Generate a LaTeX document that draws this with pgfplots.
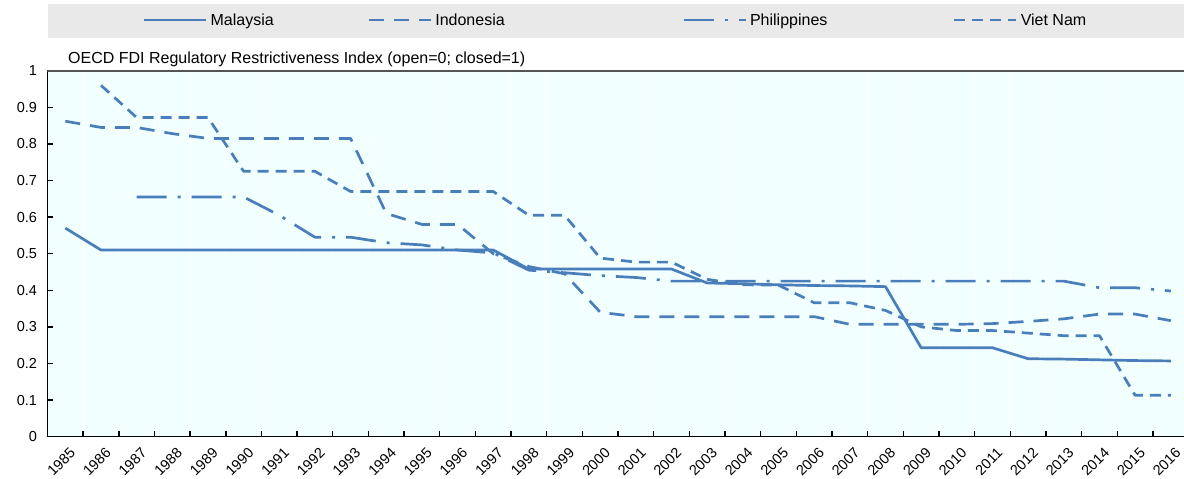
\documentclass[border=0pt]{standalone}
\usepackage{pgfplots}
\pgfplotsset{compat=1.18}
\usepackage{pgfplotstable}
\usepackage{fontspec}
\setmainfont{Liberation Sans}
\definecolor{ser}{RGB}{74,126,187}
\definecolor{bg}{RGB}{242,255,255}
\definecolor{leggray}{RGB}{233,233,233}
\definecolor{frame}{RGB}{85,85,85}

\pgfplotstableread{
year mal   ind   phi   vie
1985 0.570 0.862 nan   nan
1986 0.510 0.845 nan   0.960
1987 0.510 0.845 0.655 0.872
1988 0.510 0.828 0.655 0.872
1989 0.510 0.815 0.655 0.872
1990 0.510 0.815 0.655 0.725
1991 0.510 0.815 0.605 0.725
1992 0.510 0.815 0.545 0.725
1993 0.510 0.815 0.545 0.670
1994 0.510 0.610 0.530 0.670
1995 0.510 0.580 0.524 0.670
1996 0.510 0.580 0.510 0.670
1997 0.510 0.500 0.502 0.670
1998 0.458 0.465 0.455 0.605
1999 0.458 0.445 0.448 0.605
2000 0.458 0.340 0.440 0.488
2001 0.458 0.328 0.435 0.477
2002 0.458 0.328 0.425 0.477
2003 0.420 0.328 0.425 0.430
2004 0.418 0.328 0.425 0.415
2005 0.415 0.328 0.425 0.414
2006 0.413 0.328 0.425 0.366
2007 0.412 0.307 0.425 0.366
2008 0.410 0.307 0.425 0.345
2009 0.243 0.307 0.425 0.300
2010 0.243 0.307 0.425 0.290
2011 0.243 0.309 0.425 0.290
2012 0.213 0.315 0.425 0.283
2013 0.212 0.322 0.425 0.276
2014 0.210 0.335 0.407 0.276
2015 0.208 0.335 0.407 0.113
2016 0.207 0.317 0.398 0.113
}\data

\begin{document}
\begin{tikzpicture}
\useasboundingbox (-47.5pt,-42.3pt) rectangle (1136.5pt,436.7pt);
\fill[leggray] (0.5pt,398.7pt) rectangle (1136.5pt,432.7pt);
\begin{axis}[
  at={(0pt,0pt)}, anchor=south west,
  scale only axis, width=1136.5pt, height=366pt,
  xmin=1984.5, xmax=2016.37, ymin=0, ymax=1,
  axis background/.style={fill=bg},
  axis x line*=bottom, axis y line*=left,
  axis line style={black, line width=1.6pt, -},
  xtick={1984.5,1985.5,...,2015.5},
  xticklabels={1985,1986,1987,1988,1989,1990,1991,1992,1993,1994,1995,1996,1997,1998,1999,2000,2001,2002,2003,2004,2005,2006,2007,2008,2009,2010,2011,2012,2013,2014,2015,2016},
  ytick={0,0.1,0.2,0.3,0.4,0.5,0.6,0.7,0.8,0.9,1},
  yticklabels={0,0.1,0.2,0.3,0.4,0.5,0.6,0.7,0.8,0.9,1},
  tick align=inside, major tick length=6pt,
  tick style={black, line width=1.4pt},
  xmajorgrids, major x grid style={white, line width=1pt},
  ticklabel style={font=\fontsize{14.5}{16}\selectfont},
  xticklabel style={font=\fontsize{14.5}{16}\selectfont, xshift=21.5pt, yshift=-10pt, rotate=45, anchor=north east, inner sep=0pt},
  yticklabel style={xshift=-7pt},
  legend style={at={(0.084,1.1385)}, anchor=west, draw=none, fill=none,
    inner sep=0pt, outer sep=0pt, font=\fontsize{16}{18}\selectfont,
    nodes={inner sep=0pt},
    /tikz/every odd column/.append style={column sep=3pt}},
  legend columns=4,
  legend image code/.code={\draw[#1] (0pt,0pt) -- (62pt,0pt);},
  every axis plot/.append style={ser, line width=2.7pt, line cap=butt, line join=round},
]
\addplot[solid] table[x=year, y=mal] {\data};
\addlegendentry{\makebox[157pt][l]{Malaysia}}
\addplot[dash pattern=on 15pt off 10pt] table[x=year, y=ind] {\data};
\addlegendentry{\makebox[247pt][l]{Indonesia}}
\addplot[dash pattern=on 30pt off 11pt on 3pt off 11pt] table[x=year, y=phi] {\data};
\addlegendentry{\makebox[203pt][l]{Philippines}}
\addplot[dash pattern=on 11pt off 7pt] table[x=year, y=vie] {\data};
\addlegendentry{Viet Nam}
\draw[frame, line width=2pt] (rel axis cs:0,1) -- (rel axis cs:1,1);
\end{axis}
\node[anchor=west, inner sep=0pt, font=\fontsize{16}{18}\selectfont] at (20.5pt,377.7pt) {OECD FDI Regulatory Restrictiveness Index (open=0; closed=1)};
\end{tikzpicture}
\end{document}
